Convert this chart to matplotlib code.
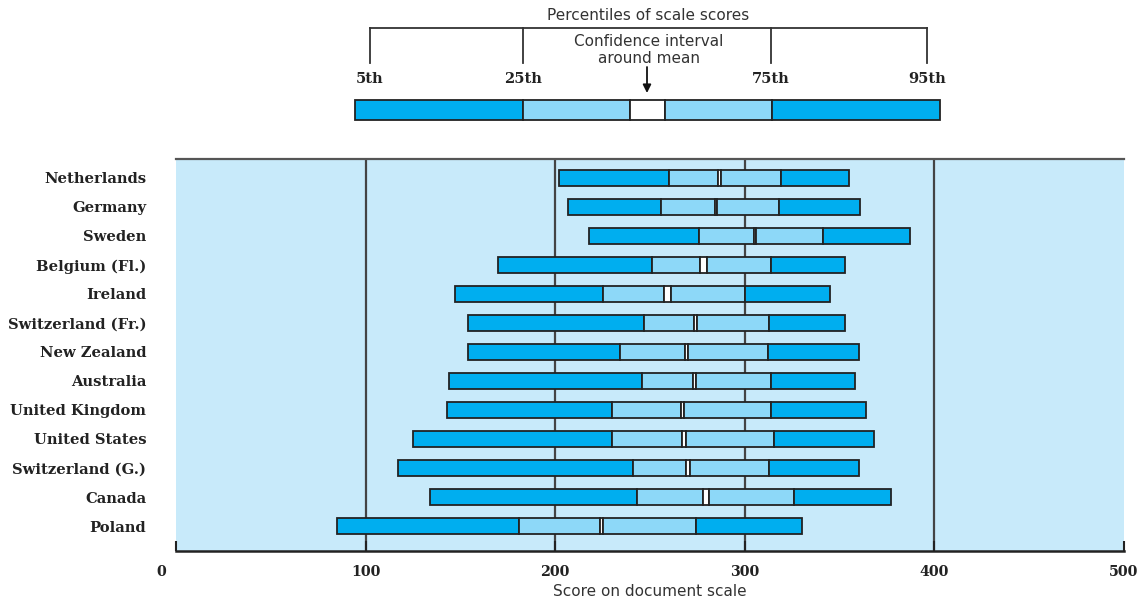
import matplotlib
matplotlib.use("Agg")
import matplotlib.pyplot as plt
import matplotlib.transforms as mtransforms
import numpy as np

# Document literacy score distribution by country
countries = ["Netherlands", "Germany", "Sweden", "Belgium (Fl.)", "Ireland",
             "Switzerland (Fr.)", "New Zealand", "Australia", "United Kingdom",
             "United States", "Switzerland (G.)", "Canada", "Poland"]
p5 = [202, 207, 218, 170, 147, 154, 154, 144, 143, 125, 117, 134, 85]
p25 = [260, 256, 276, 251, 225, 247, 234, 246, 230, 230, 241, 243, 181]
ci_low = [286, 284.5, 305, 276.5, 257.5, 273, 268.5, 272.5, 266.5, 267, 269, 278, 223.5]
ci_high = [287.5, 285.5, 306, 280, 261, 275, 270, 274, 268, 269, 271, 281, 225]
p75 = [319, 318, 341, 314, 300, 313, 312, 314, 314, 315.5, 313, 326, 274]
p95 = [355, 361, 387, 353, 345, 353, 360, 358, 364, 368, 360, 377, 330]

x_ticks = [0, 100, 200, 300, 400, 500]
x_label = "Score on document scale"

DARK = "#00AEEF"
LIGHT = "#8DD8F8"
BG = "#C8EAFA"
EDGE = "#222222"
GRID = "#444444"
TEXT = "#333333"

W, H = 1144, 606
fig = plt.figure(figsize=(W / 100, H / 100), dpi=100)

ax = fig.add_axes([176 / W, 1 - 551 / H, 948 / W, 392 / H])
ax.set_facecolor(BG)

y = np.arange(len(countries))
segments = [
    (np.array(p5), np.array(p25), DARK),
    (np.array(p25), np.array(ci_low), LIGHT),
    (np.array(ci_low), np.array(ci_high), "white"),
    (np.array(ci_high), np.array(p75), LIGHT),
    (np.array(p75), np.array(p95), DARK),
]
for lo, hi, col in segments:
    ax.barh(y, hi - lo, left=lo, height=0.55, color=col,
            edgecolor=EDGE, linewidth=1.3, zorder=3)

for v in x_ticks[1:-1]:
    ax.axvline(v, color=GRID, linewidth=1.6, zorder=1)

ax.set_xlim(0, 500)
ax.set_ylim(len(countries) - 1 + 0.862, -0.655)

ax.set_yticks(y)
ax.set_yticklabels(countries, family="DejaVu Serif", fontweight="bold",
                   fontsize=10.6, color="#222222")
ax.tick_params(axis="y", length=0, pad=21.5)

ax.set_xticks(x_ticks)
ax.set_xticklabels([str(v) for v in x_ticks], family="DejaVu Serif",
                   fontweight="bold", fontsize=10.3, color="#222222")
ax.tick_params(axis="x", direction="in", length=7.5, width=1.5,
               color="#222222", pad=10)
# the zero label sits a little left of its tick
zero_lbl = ax.get_xticklabels()[0]
zero_lbl.set_transform(zero_lbl.get_transform() +
                       mtransforms.ScaledTranslation(-15 / 100, 0, fig.dpi_scale_trans))

ax.set_xlabel(x_label, family="DejaVu Sans", fontsize=11, color=TEXT, labelpad=4)

for side in ("left", "right"):
    ax.spines[side].set_visible(False)
ax.spines["bottom"].set_linewidth(1.8)
ax.spines["bottom"].set_color("#222222")
ax.spines["top"].set_linewidth(1.6)
ax.spines["top"].set_color("#555555")

# key explaining the bar segments, drawn in figure pixels
key = fig.add_axes([0, 0, 1, 1])
key.set_xlim(0, W)
key.set_ylim(H, 0)
key.axis("off")
key.patch.set_alpha(0)

key_edges = [355, 523, 630, 665, 772, 940]
key_colors = [DARK, LIGHT, "white", LIGHT, DARK]
for x0, x1, col in zip(key_edges[:-1], key_edges[1:], key_colors):
    key.add_patch(plt.Rectangle((x0, 100), x1 - x0, 20, facecolor=col,
                                edgecolor=EDGE, linewidth=1.3))

bracket_x = [370, 523, 771, 927]
bracket_lbl = ["5th", "25th", "75th", "95th"]
key.plot([bracket_x[0], bracket_x[-1]], [28, 28], color=TEXT, linewidth=1.3)
for bx, lbl in zip(bracket_x, bracket_lbl):
    key.plot([bx, bx], [28, 63], color=TEXT, linewidth=1.3)
    key.text(bx, 79, lbl, ha="center", va="center", family="DejaVu Serif",
             fontweight="bold", fontsize=10.5, color="#222222")

key.text(648, 15, "Percentiles of scale scores", ha="center", va="center",
         family="DejaVu Sans", fontsize=11, color=TEXT)
key.text(649, 50, "Confidence interval\naround mean", ha="center", va="center",
         family="DejaVu Sans", fontsize=11, color=TEXT, linespacing=1.2)
key.annotate("", xy=(647, 93), xytext=(647, 67),
             arrowprops=dict(arrowstyle="-|>", color="#111111", lw=1.3,
                             mutation_scale=12, shrinkA=0, shrinkB=0))

fig.savefig("out.png", dpi=100)
